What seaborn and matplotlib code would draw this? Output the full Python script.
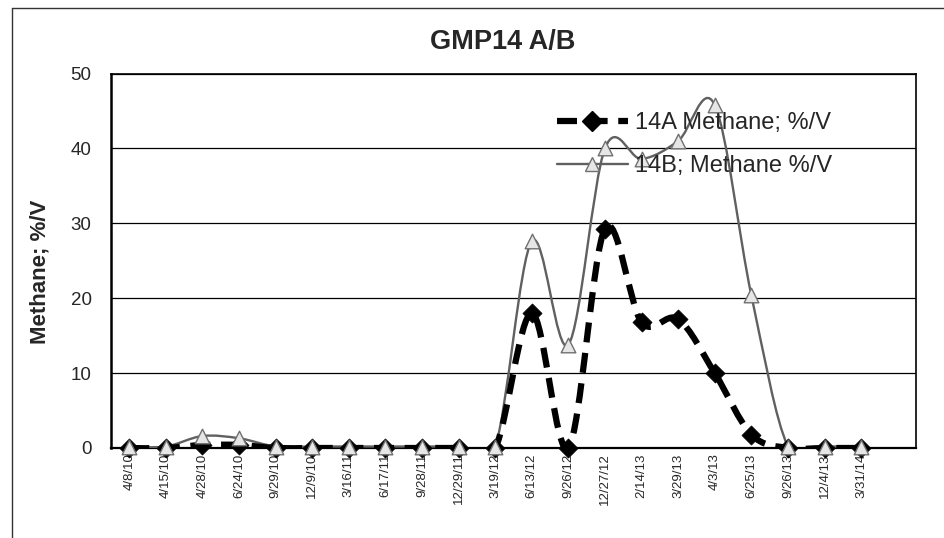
import numpy as np
import seaborn as sns
import matplotlib.pyplot as plt
from matplotlib.path import Path
from matplotlib.patches import PathPatch
from matplotlib.lines import Line2D

dates = ['4/8/10', '4/15/10', '4/28/10', '6/24/10', '9/29/10', '12/9/10', '3/16/11',
         '6/17/11', '9/28/11', '12/29/11', '3/19/12', '6/13/12', '9/26/12', '12/27/12',
         '2/14/13', '3/29/13', '4/3/13', '6/25/13', '9/26/13', '12/4/13', '3/31/14']
methane_14a = [0, 0, 0.4, 0.4, 0, 0, 0, 0, 0, 0, 0, 18.0, 0, 29.3, 16.8, 17.2,
               10.0, 1.8, 0, 0, 0]
methane_14b = [0.2, 0.2, 1.6, 1.3, 0.2, 0.2, 0.2, 0.2, 0.2, 0.2, 0.2, 27.6, 13.8,
               40.0, 38.6, 41.0, 45.8, 20.4, 0.2, 0.2, 0.2]
tick_labels = dates + ['']  # excel leaves one empty category at the end

sns.set_style('white')
plt.rcParams['font.family'] = ['Liberation Sans', 'DejaVu Sans']


def smooth_path(xs, ys):
    # excel style smoothed line: bezier segments through the data points
    pts = np.column_stack([xs, ys]).astype(float)
    n = len(pts)
    verts = [pts[0]]
    codes = [Path.MOVETO]
    for i in range(n - 1):
        p0 = pts[max(i - 1, 0)]
        p1 = pts[i]
        p2 = pts[i + 1]
        p3 = pts[min(i + 2, n - 1)]
        verts += [p1 + (p2 - p0) / 6, p2 - (p3 - p1) / 6, p2]
        codes += [Path.CURVE4] * 3
    return Path(verts, codes)


fig = plt.figure(figsize=(9.44, 5.38), dpi=100)
ax = fig.add_axes([111 / 944, 90 / 538, 805 / 944, 374.5 / 538])

x = np.arange(len(dates))
a_style = dict(color='black', lw=4.5, ls=(0, (3.2, 1.7)))
b_style = dict(color='#606060', lw=1.7)

ax.add_patch(PathPatch(smooth_path(x, methane_14b), fill=False, **b_style, zorder=3))
ax.add_patch(PathPatch(smooth_path(x, methane_14a), fill=False, **a_style, zorder=4))
sns.scatterplot(x=x, y=methane_14a, marker='D', s=95, color='black', edgecolor='black',
                linewidth=0.5, ax=ax, zorder=5, clip_on=False)
sns.scatterplot(x=x, y=methane_14b, marker='^', s=110, color='#e6e6e6', edgecolor='#707070',
                linewidth=1.0, ax=ax, zorder=6, clip_on=False)

ax.set_xlim(-0.5, len(tick_labels) - 0.5)
ax.set_ylim(0, 50)
ax.set_yticks(range(0, 51, 10))
ax.set_xticks(range(len(tick_labels)))
ax.set_xticklabels(tick_labels, rotation=90, fontsize=9.5)
ax.set_xticks(np.arange(-0.5, len(tick_labels)), minor=True)
ax.tick_params(axis='x', which='major', length=0, pad=4)
ax.tick_params(axis='x', which='minor', length=4, width=1, direction='out', color='black')
ax.tick_params(axis='y', length=6, width=1, direction='out', color='black', pad=8, labelsize=13.5)
ax.yaxis.grid(True, color='black', lw=0.9)
ax.set_axisbelow(True)
for side, lw in [('left', 1.8), ('bottom', 1.6), ('top', 1.2), ('right', 1.2)]:
    ax.spines[side].set_color('black')
    ax.spines[side].set_linewidth(lw)

handles = [
    Line2D([], [], marker='D', markersize=10, markerfacecolor='black', markeredgecolor='black', **a_style),
    Line2D([], [], marker='^', markersize=10, markerfacecolor='#e6e6e6', markeredgecolor='#707070', **b_style),
]
fig.legend(handles, ['14A Methane; %/V', '14B; Methane %/V'], loc='upper left',
           bbox_to_anchor=(557 / 944, 1 - 112 / 538), frameon=False, fontsize=17,
           handlelength=3.0, handletextpad=0.3, labelspacing=0.9, borderpad=0, borderaxespad=0)

fig.text(503 / 944, 1 - 42 / 538, 'GMP14 A/B', ha='center', va='center',
         fontsize=19.5, fontweight='bold')
fig.text(40 / 944, 1 - 272 / 538, 'Methane; %/V', ha='center', va='center',
         rotation=90, fontsize=16, fontweight='bold')

# outer chart border (scan shows only top and left edges)
fig.add_artist(Line2D([12 / 944, 1], [1 - 8 / 538] * 2, color='#333333', lw=1))
fig.add_artist(Line2D([12 / 944] * 2, [0, 1 - 8 / 538], color='#333333', lw=1))

fig.savefig('out.png', dpi=100)
